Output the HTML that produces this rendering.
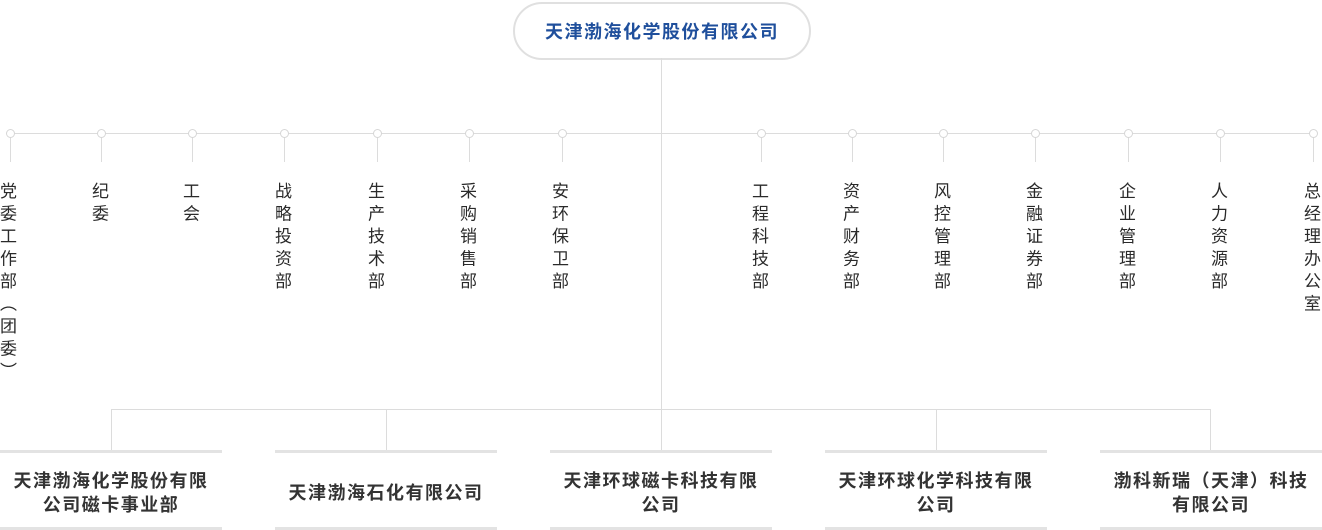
<!DOCTYPE html>
<html><head><meta charset="utf-8"><style>
body{margin:0;width:1322px;height:530px;background:#fff;position:relative;overflow:hidden;font-family:"Liberation Sans","Noto Sans CJK SC",sans-serif}
.l{position:absolute;background:#dcdcdc}
.dot{position:absolute;width:7px;height:7px;border:1px solid #d6d6d6;border-radius:50%;background:#fff;top:129px}
.v{position:absolute;top:182px;margin-left:-3px;writing-mode:vertical-rl;font-size:17px;letter-spacing:5.5px;color:#2a2a2a;line-height:18px;width:18px}
.box{position:absolute;top:450px;width:222px;height:74px;padding-top:6px;box-sizing:content-box;height:68px;border-top:3px solid #e3e3e3;border-bottom:3px solid #e3e3e3;display:flex;align-items:center;justify-content:center;text-align:center;font-size:18px;letter-spacing:1.5px;font-weight:bold;color:#333;line-height:24px}
.top{position:absolute;left:513px;top:2px;width:294px;height:54px;border:2px solid #e0e0e0;border-radius:29px;display:flex;align-items:center;justify-content:center;color:#1f4f9c;font-weight:bold;font-size:18px;letter-spacing:1.5px}
</style></head><body>
<div class="top">天津渤海化学股份有限公司</div>
<div class="l" style="left:661px;top:58px;width:1px;height:392px"></div>
<div class="l" style="left:10px;top:133px;width:1303px;height:1px"></div>
<div class="l" style="left:111px;top:409px;width:1100px;height:1px"></div>
<div class="l" style="left:111px;top:409px;width:1px;height:41px"></div>
<div class="l" style="left:386px;top:409px;width:1px;height:41px"></div>
<div class="l" style="left:936px;top:409px;width:1px;height:41px"></div>
<div class="l" style="left:1210px;top:409px;width:1px;height:41px"></div>

<div class="l" style="left:10px;top:133px;width:1px;height:29px"></div><div class="dot" style="left:6px"></div>
<div class="l" style="left:101px;top:133px;width:1px;height:29px"></div><div class="dot" style="left:97px"></div>
<div class="l" style="left:192px;top:133px;width:1px;height:29px"></div><div class="dot" style="left:188px"></div>
<div class="l" style="left:284px;top:133px;width:1px;height:29px"></div><div class="dot" style="left:280px"></div>
<div class="l" style="left:377px;top:133px;width:1px;height:29px"></div><div class="dot" style="left:373px"></div>
<div class="l" style="left:469px;top:133px;width:1px;height:29px"></div><div class="dot" style="left:465px"></div>
<div class="l" style="left:562px;top:133px;width:1px;height:29px"></div><div class="dot" style="left:558px"></div>
<div class="l" style="left:761px;top:133px;width:1px;height:29px"></div><div class="dot" style="left:757px"></div>
<div class="l" style="left:852px;top:133px;width:1px;height:29px"></div><div class="dot" style="left:848px"></div>
<div class="l" style="left:943px;top:133px;width:1px;height:29px"></div><div class="dot" style="left:939px"></div>
<div class="l" style="left:1035px;top:133px;width:1px;height:29px"></div><div class="dot" style="left:1031px"></div>
<div class="l" style="left:1128px;top:133px;width:1px;height:29px"></div><div class="dot" style="left:1124px"></div>
<div class="l" style="left:1220px;top:133px;width:1px;height:29px"></div><div class="dot" style="left:1216px"></div>
<div class="l" style="left:1313px;top:133px;width:1px;height:29px"></div><div class="dot" style="left:1309px"></div>

<div class="v" style="left:0px">党委工作部（团委）</div>
<div class="v" style="left:92px">纪委</div>
<div class="v" style="left:183px">工会</div>
<div class="v" style="left:275px">战略投资部</div>
<div class="v" style="left:368px">生产技术部</div>
<div class="v" style="left:460px">采购销售部</div>
<div class="v" style="left:552px">安环保卫部</div>
<div class="v" style="left:752px">工程科技部</div>
<div class="v" style="left:843px">资产财务部</div>
<div class="v" style="left:934px">风控管理部</div>
<div class="v" style="left:1026px">金融证券部</div>
<div class="v" style="left:1119px">企业管理部</div>
<div class="v" style="left:1211px">人力资源部</div>
<div class="v" style="left:1304px">总经理办公室</div>

<div class="box" style="left:0">天津渤海化学股份有限<br>公司磁卡事业部</div>
<div class="box" style="left:275px">天津渤海石化有限公司</div>
<div class="box" style="left:550px">天津环球磁卡科技有限<br>公司</div>
<div class="box" style="left:825px">天津环球化学科技有限<br>公司</div>
<div class="box" style="left:1100px">渤科新瑞（天津）科技<br>有限公司</div>
</body></html>
